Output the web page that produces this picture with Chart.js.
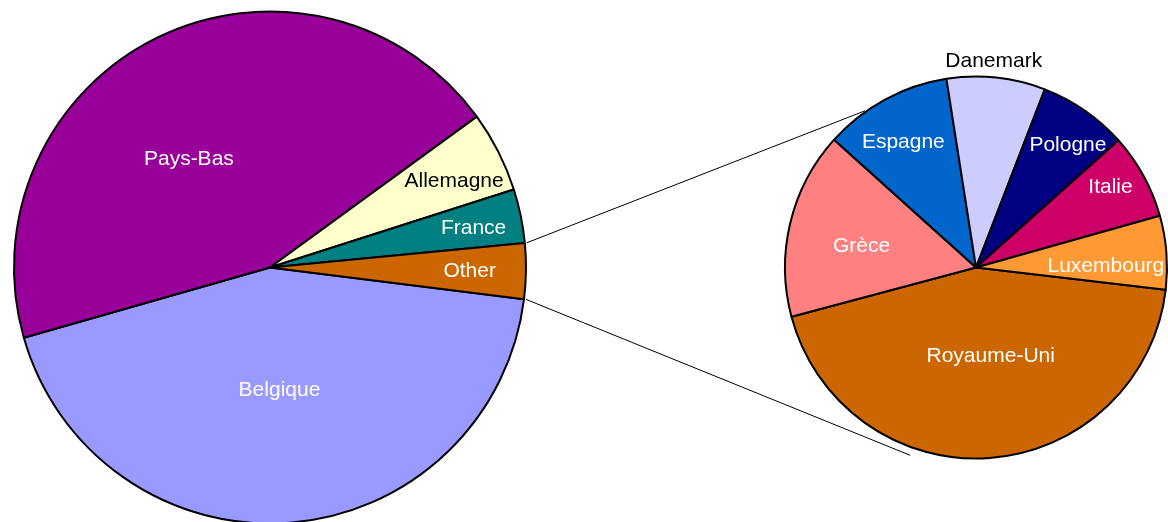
<!DOCTYPE html>
<html lang="fr">
<head>
    <meta charset="UTF-8">
    <meta name="viewport" content="width=device-width, initial-scale=1.0">
    <title>Secteurs de secteur</title>
    <script src="https://cdn.jsdelivr.net/npm/chart.js"></script>
    <style>
        body {
            margin: 0;
            background-color: #FFFFFF;
            overflow: hidden;
        }
        .wrap {
            position: relative;
            width: 1168px;
            height: 522px;
            overflow: hidden;
        }
        canvas {
            position: absolute;
        }
        #mainPie { left: 0; top: 0; }
        #detailPie { left: 776px; top: 28px; }
        #connectors { left: 0; top: 0; pointer-events: none; }
    </style>
</head>
<body>
    <div class="wrap">
        <canvas id="mainPie" width="540" height="535"></canvas>
        <canvas id="detailPie" width="400" height="479"></canvas>
        <canvas id="connectors" width="1168" height="522"></canvas>
    </div>

    <script>
        // grand secteur, parts en %
        const mainLabels = ['Belgique', 'Pays-Bas', 'Allemagne', 'France'];
        const mainValues = [43.6, 44.4, 5.1, 3.4];
        const mainColors = ['#9999FF', '#990099', '#FFFFCC', '#008080'];
        const otherLabel = 'Other';
        const otherColor = '#CC6600';

        // détail du secteur "Other"
        const detailLabels = ['Royaume-Uni', 'Grèce', 'Espagne', 'Danemark', 'Pologne', 'Italie', 'Luxembourg'];
        const detailValues = [1.54, 0.554, 0.380, 0.292, 0.264, 0.253, 0.218];
        const detailColors = ['#CC6600', '#FF8080', '#0066CC', '#CCCCFF', '#000080', '#CC0066', '#FF9933'];

        const otherTotal = detailValues.reduce((s, v) => s + v, 0);

        // étiquettes : [fraction du rayon, décalage angulaire en degrés]
        const mainPlace = [[0.48, 0], [0.53, -10.7], [0.795, 1.7], [0.81, 0.7], [0.78, 0.4]];
        const mainTextColors = ['#FFFFFF', '#FFFFFF', '#000000', '#FFFFFF', '#FFFFFF'];
        const detailPlace = [[0.47, -5.3], [0.61, -2.8], [0.76, -1.6], [1.084, -1.2], [0.80, 2.3], [0.82, -2.1], [0.68, 4.1]];
        const detailTextColors = ['#FFFFFF', '#FFFFFF', '#FFFFFF', '#000000', '#FFFFFF', '#FFFFFF', '#FFFFFF'];

        const labelFont = '21px "Liberation Sans", Arial, sans-serif';

        // écrit le nom de chaque part dans (ou près de) son secteur
        const sliceLabels = {
            id: 'sliceLabels',
            afterDatasetsDraw(chart, args, opts) {
                const ctx = chart.ctx;
                const arcs = chart.getDatasetMeta(0).data;
                ctx.save();
                ctx.font = labelFont;
                ctx.textAlign = 'center';
                ctx.textBaseline = 'middle';
                arcs.forEach((arc, i) => {
                    const p = arc.getProps(['x', 'y', 'startAngle', 'endAngle', 'outerRadius'], true);
                    const [f, shift] = opts.place[i];
                    const a = (p.startAngle + p.endAngle) / 2 + shift * Math.PI / 180;
                    const r = p.outerRadius * f;
                    ctx.fillStyle = opts.colors[i];
                    ctx.fillText(chart.data.labels[i], p.x + Math.cos(a) * r, p.y + Math.sin(a) * r);
                });
                ctx.restore();
            }
        };

        function pieOptions(rotation, radius, place, colors) {
            return {
                responsive: false,
                animation: false,
                rotation: rotation,
                radius: radius,
                layout: { padding: 0 },
                plugins: {
                    legend: { display: false },
                    tooltip: { enabled: false },
                    sliceLabels: { place: place, colors: colors }
                }
            };
        }

        const mainChart = new Chart(document.getElementById('mainPie'), {
            type: 'pie',
            data: {
                labels: [...mainLabels, otherLabel],
                datasets: [{
                    data: [...mainValues, otherTotal],
                    backgroundColor: [...mainColors, otherColor],
                    borderColor: '#000000',
                    borderWidth: 2
                }]
            },
            options: pieOptions(97.1, 256, mainPlace, mainTextColors),
            plugins: [sliceLabels]
        });

        const detailChart = new Chart(document.getElementById('detailPie'), {
            type: 'pie',
            data: {
                labels: detailLabels,
                datasets: [{
                    data: detailValues,
                    backgroundColor: detailColors,
                    borderColor: '#000000',
                    borderWidth: 2
                }]
            },
            options: pieOptions(96.7, 191, detailPlace, detailTextColors),
            plugins: [sliceLabels]
        });

        // lignes reliant "Other" au second secteur
        function drawConnectors() {
            const canvas = document.getElementById('connectors');
            const ctx = canvas.getContext('2d');
            const detailCanvas = document.getElementById('detailPie');
            const ox = detailCanvas.offsetLeft;
            const oy = detailCanvas.offsetTop;

            const other = mainChart.getDatasetMeta(0).data[mainLabels.length]
                .getProps(['x', 'y', 'startAngle', 'endAngle', 'outerRadius'], true);
            const d = detailChart.getDatasetMeta(0).data[0]
                .getProps(['x', 'y', 'outerRadius'], true);

            const deg = Math.PI / 180;
            const pt = (cx, cy, a, r) => [cx + Math.cos(a) * r, cy + Math.sin(a) * r];

            const from = [
                pt(other.x, other.y, other.startAngle, other.outerRadius + 2),
                pt(other.x, other.y, other.endAngle, other.outerRadius + 2)
            ];
            const to = [
                pt(d.x + ox, d.y + oy, -125.3 * deg, d.outerRadius + 1),
                pt(d.x + ox, d.y + oy, 109.3 * deg, d.outerRadius + 8)
            ];

            ctx.strokeStyle = '#000000';
            ctx.lineWidth = 1;
            for (let i = 0; i < 2; i++) {
                ctx.beginPath();
                ctx.moveTo(from[i][0], from[i][1]);
                ctx.lineTo(to[i][0], to[i][1]);
                ctx.stroke();
            }
        }

        drawConnectors();
    </script>
</body>
</html>
